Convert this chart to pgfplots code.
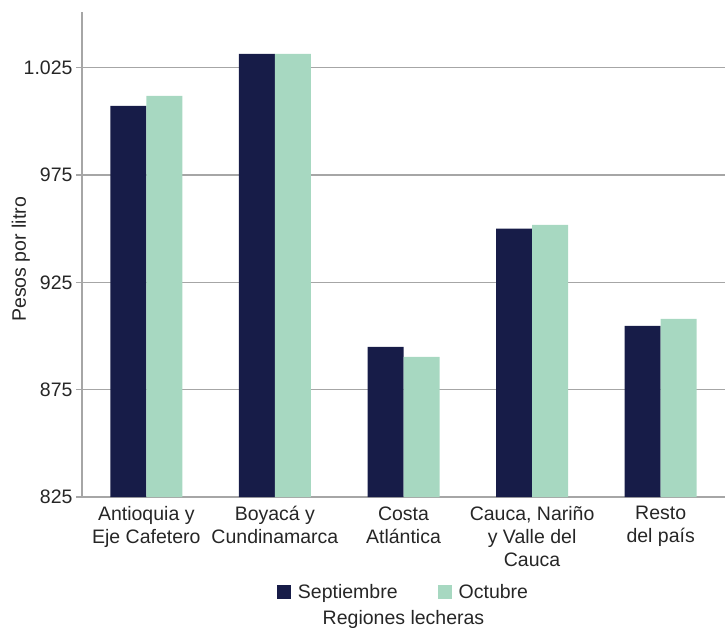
\documentclass[border=0pt]{standalone}
\usepackage{pgfplots}
\pgfplotsset{compat=1.18}
\usepackage{fontspec}
\setmainfont{Liberation Sans}
\definecolor{navy}{HTML}{171C48}
\definecolor{mint}{HTML}{A7D8C1}
\definecolor{gridgray}{HTML}{A6A6A6}
\newcommand{\chartfont}{\fontsize{19.5}{23}\selectfont}

\begin{document}
\begin{tikzpicture}
\useasboundingbox (-82pt,-132pt) rectangle (643pt,497pt);
\begin{axis}[
    width=643pt,
    height=485pt,
    scale only axis,
    axis lines=left,
    axis line style={-, gridgray, line width=1.2pt},
    ybar=0pt,
    bar width=36pt,
    xmin=-0.5, xmax=4.5,
    ymin=825, ymax=1051,
    xtick={0,1,2,3,4},
    xticklabels={Antioquia y\\Eje Cafetero, Boyacá y\\Cundinamarca, Costa\\Atlántica, {Cauca, Nariño\\y Valle del\\Cauca}, Resto\\del país},
    x tick style={draw=none},
    ytick={825,875,925,975,1025},
    ymajorgrids,
    grid style={gridgray, line width=1.2pt},
    y tick style={gridgray, line width=1.2pt},
    tick align=outside,
    major tick length=6pt,
    /pgf/number format/.cd, 1000 sep={.}, assume math mode=true,
    /pgfplots/.cd,
    tick label style={font=\chartfont, text=black!85},
    xticklabel style={align=center},
    ylabel={Pesos por litro},
    ylabel style={font=\chartfont, text=black!85, at={(axis description cs:-0.095,0.49)}, anchor=center},
    xlabel={Regiones lecheras},
    xlabel style={font=\chartfont, text=black!85, at={(axis description cs:0.5,-0.252)}, anchor=center},
    legend columns=2,
    legend style={at={(0.5,-0.196)}, anchor=center, draw=none, fill=none,
        font=\chartfont, text=black!85,
        /tikz/every odd column/.append style={column sep=5pt},
        /tikz/every even column/.append style={column sep=38pt}},
    legend image code/.code={\fill[#1] (0pt,-7pt) rectangle (14pt,7pt);},
]
\addplot[fill=navy, draw=none] coordinates {
    (0,1007.3) (1,1031.5) (2,894.9) (3,950.0) (4,904.7)
};
\addlegendentry{Septiembre}
\addplot[fill=mint, draw=none] coordinates {
    (0,1011.9) (1,1031.5) (2,890.3) (3,951.8) (4,908.0)
};
\addlegendentry{Octubre}
\end{axis}
\end{tikzpicture}
\end{document}
